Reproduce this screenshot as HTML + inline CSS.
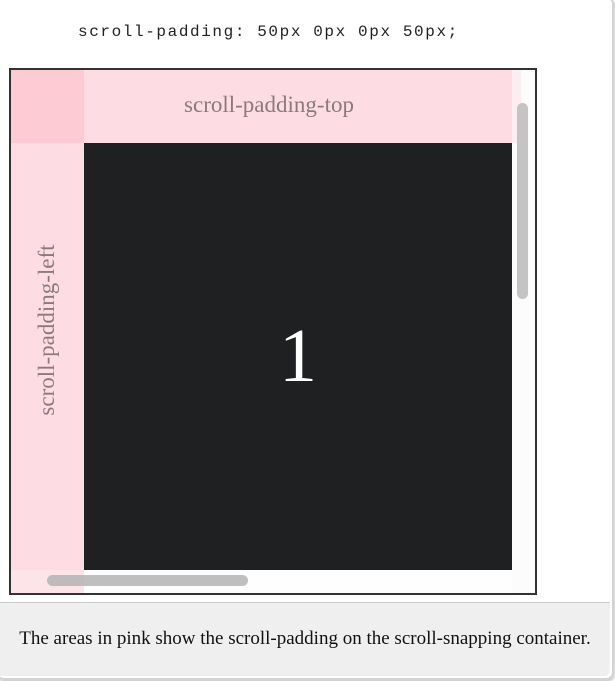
<!DOCTYPE html>
<html><head><meta charset="utf-8"><style>
body{margin:0;width:615px;height:681px;background:#fff;position:relative;overflow:hidden;font-family:"Liberation Serif",serif}
.a{position:absolute}
</style></head><body>
<div class="a" style="left:-4px;top:-4px;width:614px;height:680px;border:2px solid #d4d4d4;border-radius:8px;box-shadow:1px 2px 2px #ccc"></div>
<div class="a" style="left:78px;top:23px;white-space:nowrap;font-family:'Liberation Mono',monospace;font-size:16px;letter-spacing:1.6px;color:#222">scroll-padding: 50px 0px 0px 50px;</div>
<div class="a" style="left:9px;top:68px;width:524px;height:523px;border:2px solid #333;background:#fff;overflow:hidden">
 <div class="a" style="left:0;top:0;width:510px;height:73px;background:#fddde3"></div>
 <div class="a" style="left:0;top:0;width:73px;height:523px;background:#fddde3"></div>
 <div class="a" style="left:0;top:0;width:73px;height:73px;background:#fdcbd4"></div>
 <div class="a" style="left:73px;top:22px;width:370px;text-align:center;font-size:23px;color:#8a7a7e">scroll-padding-top</div>
 <div class="a" style="left:36px;top:260px;width:300px;margin-left:-150px;text-align:center;font-size:23px;color:#8a7a7e;transform:rotate(-90deg);line-height:26px;margin-top:-13px">scroll-padding-left</div>
 <div class="a" style="left:73px;top:73px;width:428px;height:427px;background:#1f2021;color:#fff;font-size:76px;display:flex;align-items:center;justify-content:center">1</div>
 <div class="a" style="left:501px;top:0;width:23px;height:523px;background:rgba(250,250,250,0.6)"></div>
 <div class="a" style="left:506px;top:33px;width:11px;height:196px;border-radius:6px;background:#c4c4c4"></div>
 <div class="a" style="left:0;top:500px;width:524px;height:23px;background:rgba(250,250,250,0.25)"></div>
 <div class="a" style="left:36px;top:505px;width:201px;height:11px;border-radius:6px;background:rgba(180,180,180,0.85)"></div>
</div>
<div class="a" style="left:0;top:602px;width:610px;height:73px;background:#efefef;border-top:1px solid #ccc;border-radius:0 0 6px 0"></div>
<div class="a" style="left:0;top:628px;width:610px;text-align:center;font-size:19px;color:#111">The areas in pink show the scroll-padding on the scroll-snapping container.</div>
</body></html>
